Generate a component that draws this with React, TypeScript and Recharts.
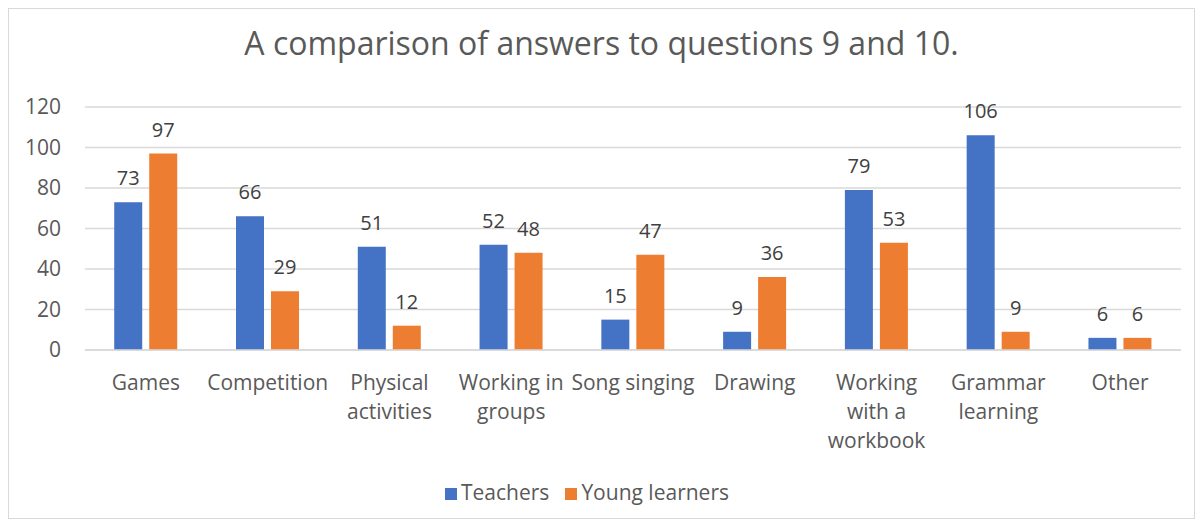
import React from "react";
import {
  BarChart,
  Bar,
  XAxis,
  YAxis,
  CartesianGrid,
  Legend,
  LabelList,
} from "recharts";

const categories = [
  "Games",
  "Competition",
  "Physical activities",
  "Working in groups",
  "Song singing",
  "Drawing",
  "Working with a workbook",
  "Grammar learning",
  "Other",
];
// how each category label wraps under the axis
const tickLines: string[][] = [
  ["Games"],
  ["Competition"],
  ["Physical", "activities"],
  ["Working in", "groups"],
  ["Song singing"],
  ["Drawing"],
  ["Working", "with a", "workbook"],
  ["Grammar", "learning"],
  ["Other"],
];
const teachers = [73, 66, 51, 52, 15, 9, 79, 106, 6];
const youngLearners = [97, 29, 12, 48, 47, 36, 53, 9, 6];
const yTicks = [0, 20, 40, 60, 80, 100, 120];

const data = categories.map((name, i) => ({
  name,
  teachers: teachers[i],
  young: youngLearners[i],
}));

const FONT = "'Open Sans', 'Noto Sans', sans-serif";
const GREY = "#595959";

const CategoryTick = (props: any) => {
  const { x, y, payload } = props;
  const idx = categories.indexOf(payload.value);
  const lines = idx >= 0 ? tickLines[idx] : [payload.value];
  return (
    <g transform={`translate(${x},${y})`}>
      {lines.map((line, i) => (
        <text
          key={i}
          x={0}
          y={i * 29}
          dy={32}
          textAnchor="middle"
          fill={GREY}
          fontSize={21}
          fontFamily={FONT}
        >
          {line}
        </text>
      ))}
    </g>
  );
};

export default function App() {
  return (
    <div
      style={{
        position: "relative",
        width: 1185,
        height: 509,
        border: "1px solid #d9d9d9",
        background: "#fff",
        fontFamily: FONT,
      }}
    >
      <div
        style={{
          position: "absolute",
          top: 12,
          left: 0,
          width: "100%",
          textAlign: "center",
          fontSize: 32,
          color: GREY,
        }}
      >
        A comparison of answers to questions 9 and 10.
      </div>
      <BarChart
        width={1185}
        height={509}
        data={data}
        margin={{ top: 98, right: 13, left: 0, bottom: 12 }}
        barGap={7}
        barCategoryGap="24%"
      >
        <CartesianGrid vertical={false} stroke="#d9d9d9" strokeWidth={1.5} />
        <XAxis
          dataKey="name"
          interval={0}
          tickLine={false}
          axisLine={{ stroke: "#d9d9d9", strokeWidth: 1.5 }}
          tick={<CategoryTick />}
          height={128}
        />
        <YAxis
          domain={[0, 120]}
          ticks={yTicks}
          width={76}
          tickLine={false}
          axisLine={false}
          tickMargin={18}
          tick={{ fill: GREY, fontSize: 21, fontFamily: FONT }}
        />
        <Legend
          verticalAlign="bottom"
          iconType="square"
          iconSize={12}
          wrapperStyle={{ fontSize: 21, fontFamily: FONT }}
          formatter={(value: string) => (
            <span style={{ color: GREY, marginRight: 6 }}>{value}</span>
          )}
        />
        <Bar
          dataKey="teachers"
          name="Teachers"
          fill="#4472C4"
          isAnimationActive={false}
        >
          <LabelList
            dataKey="teachers"
            position="top"
            offset={17}
            fill="#404040"
            fontSize={20}
            fontFamily={FONT}
          />
        </Bar>
        <Bar
          dataKey="young"
          name="Young learners"
          fill="#ED7D31"
          isAnimationActive={false}
        >
          <LabelList
            dataKey="young"
            position="top"
            offset={17}
            fill="#404040"
            fontSize={20}
            fontFamily={FONT}
          />
        </Bar>
      </BarChart>
    </div>
  );
}
